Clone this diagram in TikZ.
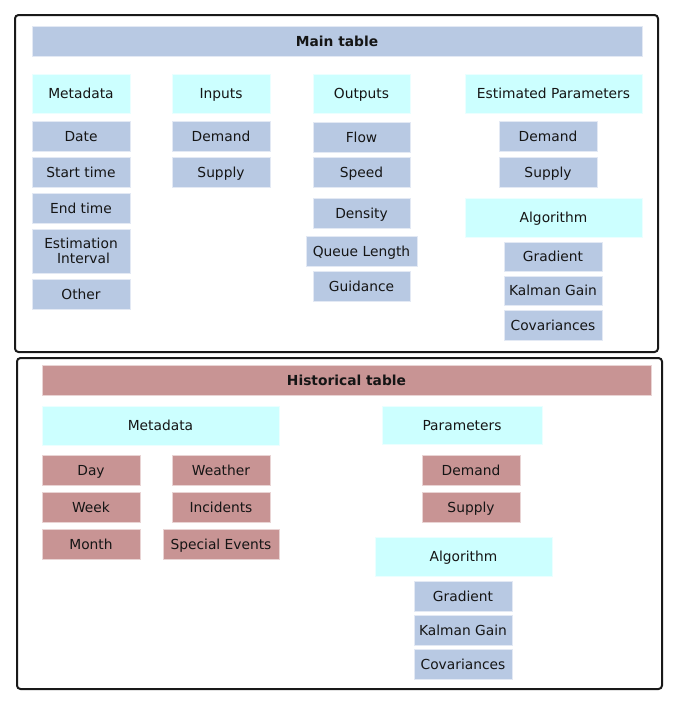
\documentclass[tikz,border=0pt]{standalone}
\usepackage{fontspec}
\setmainfont{DejaVu Sans}
\definecolor{bfill}{HTML}{B8C9E3}
\definecolor{cfill}{HTML}{CCFFFF}
\definecolor{rfill}{HTML}{C89494}
\definecolor{tcol}{HTML}{151515}
\begin{document}
\begin{tikzpicture}[x=1pt,y=-1pt,
  cellbase/.style={rectangle,inner sep=0pt,align=center,text=tcol,
    font=\fontsize{13.8}{15.5}\selectfont,line width=0.9pt},
  cell/.style={cellbase,text height=11pt,text depth=0.8pt},
  bluebox/.style={cell,fill=bfill,draw=bfill!40!white},
  cyanbox/.style={cell,fill=cfill,draw=cfill!40!white},
  redbox/.style={cell,fill=rfill,draw=rfill!40!white},
  frame/.style={rectangle,draw=black!90,line width=2pt,rounded corners=3.5pt,inner sep=0pt},
  sz/.style 2 args={minimum width=#1pt,minimum height=#2pt}]
\useasboundingbox (0,0) rectangle (677,705);
% frames
\node[frame,sz={643}{337}] (mainframe) at (336.5,183.5) {};
\node[frame,sz={645}{331}] (histframe) at (339.5,523.5) {};
% main table
\node[bluebox,sz={610}{30},font=\fontsize{13.8}{15.5}\selectfont\bfseries] (mainhead) at (337,41) {Main table};
\node[cyanbox,sz={98}{39}] (meta) at (81,93.5) {Metadata};
\node[bluebox,sz={98}{30}] (date) at (81,136) {Date};
\node[bluebox,sz={98}{30}] (start) at (81,172) {Start time};
\node[bluebox,sz={98}{30}] (endt) at (81,208) {End time};
\node[cellbase,fill=bfill,draw=bfill!40!white,sz={98}{44}] (estint) at (81,251) {Estimation\\\hspace{5pt}Interval};
\node[bluebox,sz={98}{30}] (other) at (81,294) {Other};
\node[cyanbox,sz={98}{39}] (inputs) at (221,93.5) {Inputs};
\node[bluebox,sz={98}{30}] (indem) at (221,136) {Demand};
\node[bluebox,sz={98}{30}] (insup) at (221,172) {Supply};
\node[cyanbox,sz={97}{39}] (outputs) at (361.5,93.5) {Outputs};
\node[bluebox,sz={97}{30}] (flow) at (361.5,137) {Flow};
\node[bluebox,sz={97}{30}] (speed) at (361.5,172) {Speed};
\node[bluebox,sz={97}{30}] (density) at (361.5,213) {Density};
\node[bluebox,sz={111}{30}] (queue) at (361.5,251) {Queue Length};
\node[bluebox,sz={97}{30}] (guid) at (361.5,286) {Guidance};
\node[cyanbox,sz={177}{39}] (estpar) at (553.5,93.5) {Estimated Parameters};
\node[bluebox,sz={98}{30}] (epdem) at (548,136) {Demand};
\node[bluebox,sz={98}{30}] (epsup) at (548,172) {Supply};
\node[cyanbox,sz={177}{39}] (algo) at (553.5,217.5) {Algorithm};
\node[bluebox,sz={98}{29}] (grad) at (553,256.5) {Gradient};
\node[bluebox,sz={98}{29}] (kalman) at (553,290.5) {Kalman Gain};
\node[bluebox,sz={98}{30}] (cov) at (553,325) {Covariances};
% historical table
\node[redbox,sz={609}{30},font=\fontsize{13.8}{15.5}\selectfont\bfseries] (histhead) at (346.5,380) {Historical table};
\node[cyanbox,sz={237}{39}] (hmeta) at (160.5,425.5) {Metadata};
\node[redbox,sz={98}{30}] (day) at (91,470) {Day};
\node[redbox,sz={98}{30}] (week) at (91,507) {Week};
\node[redbox,sz={98}{30}] (month) at (91,544) {Month};
\node[redbox,sz={98}{30}] (weather) at (221,470) {Weather};
\node[redbox,sz={98}{30}] (incid) at (221,507) {Incidents};
\node[redbox,sz={116}{30}] (special) at (221,544) {Special Events};
\node[cyanbox,sz={160}{38}] (params) at (462,425) {Parameters};
\node[redbox,sz={98}{30}] (hdem) at (471,470) {Demand};
\node[redbox,sz={98}{30}] (hsup) at (471,507) {Supply};
\node[cyanbox,sz={177}{39}] (halgo) at (463.5,556.5) {Algorithm};
\node[bluebox,sz={98}{30}] (hgrad) at (463,596) {Gradient};
\node[bluebox,sz={98}{30}] (hkal) at (463,630) {Kalman Gain};
\node[bluebox,sz={98}{30}] (hcov) at (463,664) {Covariances};
\end{tikzpicture}
\end{document}
